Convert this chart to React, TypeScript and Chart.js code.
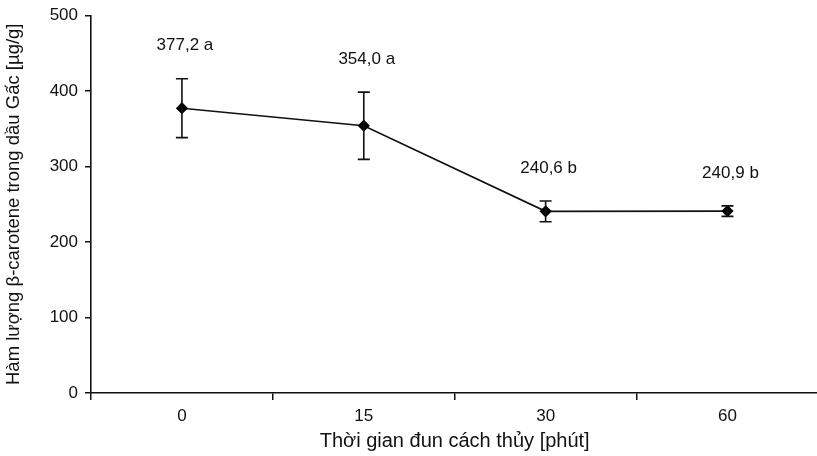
import React, { useEffect, useRef } from "react";
import { Chart, registerables } from "chart.js";

Chart.register(...registerables);

const categories = ["0", "15", "30", "60"];
const means = [377.2, 354.0, 240.6, 240.9];
const errors = [39, 44.5, 13.7, 7];
const pointLabels = ["377,2 a", "354,0 a", "240,6 b", "240,9 b"];
const yTicks = [0, 100, 200, 300, 400, 500];

const FONT = "'Liberation Sans', Arial, sans-serif";

const errorBarPlugin = {
  id: "errorBars",
  afterDatasetsDraw(chart: any) {
    const { ctx } = chart;
    const meta = chart.getDatasetMeta(0);
    const y = chart.scales.y;
    ctx.save();
    ctx.strokeStyle = "#111";
    ctx.lineWidth = 1.6;
    meta.data.forEach((pt: any, i: number) => {
      const x = pt.x;
      const yTop = y.getPixelForValue(means[i] + errors[i]);
      const yBot = y.getPixelForValue(means[i] - errors[i]);
      ctx.beginPath();
      ctx.moveTo(x, yTop);
      ctx.lineTo(x, yBot);
      ctx.moveTo(x - 6, yTop);
      ctx.lineTo(x + 6, yTop);
      ctx.moveTo(x - 6, yBot);
      ctx.lineTo(x + 6, yBot);
      ctx.stroke();
    });
    ctx.fillStyle = "#111";
    ctx.font = `17px ${FONT}`;
    ctx.textAlign = "center";
    ctx.textBaseline = "middle";
    meta.data.forEach((pt: any, i: number) => {
      const yTop = y.getPixelForValue(means[i] + errors[i]);
      ctx.fillText(pointLabels[i], pt.x + 3, yTop - 33);
    });
    ctx.restore();
  },
};

export default function App() {
  const ref = useRef<HTMLCanvasElement | null>(null);
  useEffect(() => {
    if (!ref.current) return;
    const chart = new Chart(ref.current, {
      type: "line",
      data: {
        labels: categories,
        datasets: [
          {
            data: means,
            borderColor: "#111",
            borderWidth: 1.6,
            backgroundColor: "#000",
            pointStyle: "rectRot",
            pointRadius: 5,
            pointBackgroundColor: "#000",
            pointBorderColor: "#000",
            tension: 0,
          },
        ],
      },
      options: {
        responsive: false,
        animation: false,
        layout: { padding: { top: 15, right: 1, left: 0, bottom: 0 } },
        plugins: { legend: { display: false }, tooltip: { enabled: false } },
        scales: {
          x: {
            type: "category",
            offset: true,
            grid: {
              offset: true,
              drawOnChartArea: false,
              drawTicks: true,
              tickLength: 7,
              color: "#111",
              lineWidth: 1.5,
            },
            border: { display: true, color: "#111", width: 1.6 },
            ticks: { color: "#111", font: { family: FONT, size: 17 }, padding: 6 },
            title: {
              display: true,
              text: "Thời gian đun cách thủy [phút]",
              color: "#111",
              font: { family: FONT, size: 20 },
              padding: { top: 3, bottom: 3 },
            },
            afterFit(scale: any) {
              scale.height = 63;
            },
          },
          y: {
            min: 0,
            max: 500,
            afterBuildTicks(scale: any) {
              scale.ticks = yTicks.map((v) => ({ value: v }));
            },
            grid: {
              drawOnChartArea: false,
              drawTicks: true,
              tickLength: 6,
              color: "#111",
              lineWidth: 1.5,
            },
            border: { display: true, color: "#111", width: 1.6 },
            ticks: { color: "#111", font: { family: FONT, size: 17, lineHeight: 1 }, padding: 7 },
            title: {
              display: true,
              text: "Hàm lượng β-carotene trong dầu Gấc [µg/g]",
              color: "#111",
              font: { family: FONT, size: 18.5 },
              padding: { top: 3, bottom: 0 },
            },
            afterFit(scale: any) {
              scale.width = 91;
            },
          },
        },
      },
      plugins: [errorBarPlugin],
    });
    return () => chart.destroy();
  }, []);
  return (
    <div style={{ position: "fixed", left: 0, top: 0, width: 825, height: 456, background: "#fff" }}>
      <canvas ref={ref} width={825} height={456} style={{ display: "block" }} />
    </div>
  );
}
